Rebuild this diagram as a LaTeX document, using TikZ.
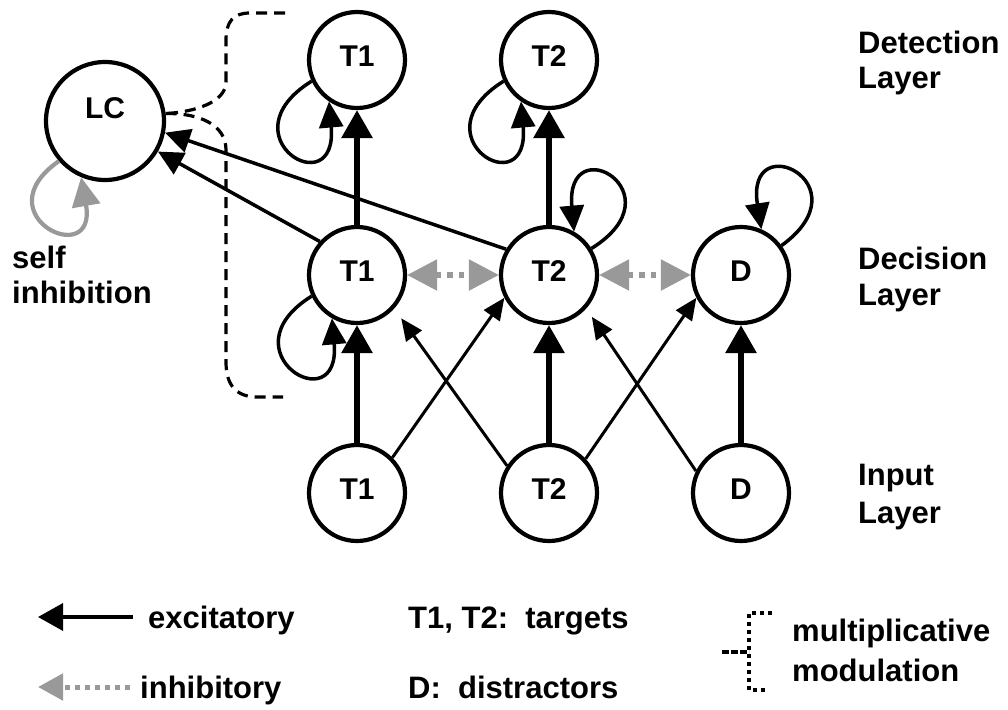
\documentclass[tikz,border=0pt]{standalone}
\usepackage{fontspec}
\setmainfont{Liberation Sans}
\usetikzlibrary{arrows.meta}
\definecolor{inhgray}{RGB}{153,153,153}
\begin{document}
\begin{tikzpicture}[x=1pt,y=1pt,
  neuron/.style={circle,draw,line width=4.2pt,minimum size=96pt,inner sep=0pt,text depth=8pt,font=\fontsize{30}{34}\selectfont\bfseries},
  lbl/.style={anchor=base west,inner sep=0pt,font=\fontsize{31}{36}\selectfont\bfseries},
  thickarr/.style={line width=6pt,-{Triangle[length=28pt,width=30pt]}},
  thinarr/.style={line width=3pt,-{Triangle[length=22pt,width=19pt]}},
  lcarr/.style={line width=3.5pt,-{Triangle[length=25pt,width=24pt]}},
  inharr/.style={color=inhgray,line width=5.5pt,dash pattern=on 5.5pt off 6pt,{Triangle[length=30pt,width=30pt]}-{Triangle[length=30pt,width=30pt]}},
  looparr/.style={line width=3.5pt,-{Triangle[length=26pt,width=24pt]}},
  modline/.style={line width=3.2pt,dash pattern=on 11pt off 7pt}
]
\useasboundingbox (0,0) rectangle (1008,-709);

% neurons
\node[neuron] (d1) at (357,-60) {T1};
\node[neuron] (d2) at (549,-60) {T2};
\node[neuron] (c1) at (357,-275) {T1};
\node[neuron] (c2) at (549,-275) {T2};
\node[neuron] (c3) at (741,-275) {D};
\node[neuron] (i1) at (357,-493) {T1};
\node[neuron] (i2) at (549,-493) {T2};
\node[neuron] (i3) at (741,-493) {D};
\node[neuron,minimum size=118pt,text depth=26pt] (lc) at (105,-121) {LC};

% excitatory feed-forward
\draw[thickarr] (i1) -- (c1);
\draw[thickarr] (i2) -- (c2);
\draw[thickarr] (i3) -- (c3);
\draw[thickarr] (c1) -- (d1);
\draw[thickarr] (c2) -- (d2);
\draw[thinarr] (i1.45) -- (c2.207);
\draw[thinarr,shorten >=12pt] (i2.147) -- (c1.-42);
\draw[thinarr] (i2.43) -- (c3.207);
\draw[thinarr,shorten >=10pt] (i3.154) -- (c2.-42);
\draw[lcarr] (c1.138) -- (lc.-30);
\draw[lcarr] (c2.149) -- (lc.-11);

% inhibitory
\draw[inharr] (c1) -- (c2);
\draw[inharr] (c2) -- (c3);

% self loops
\draw[looparr] (d1.205) .. controls +(212:105) and +(275:105) .. (d1.236);
\draw[looparr] (d2.205) .. controls +(212:105) and +(275:105) .. (d2.236);
\draw[looparr] (c1.205) .. controls +(212:105) and +(275:105) .. (c1.240);
\draw[looparr] (c2.32) .. controls +(32:105) and +(95:105) .. (c2.60);
\draw[looparr] (c3.36) .. controls +(36:105) and +(99:105) .. (c3.66);
\draw[looparr,color=inhgray,line width=4.2pt,-{Triangle[length=29pt,width=28pt]}] (lc.221) .. controls +(215:95) and +(280:95) .. (lc.247);

% multiplicative modulation
\coordinate (mt) at (285,-13);
\coordinate (mb) at (283,-397);
\draw[modline] (mt) -- (250,-13) .. controls (233,-13) and (226,-22) .. (226,-40) -- (226,-82) .. controls (226,-102) and (195,-112) .. (lc.7);
\draw[modline] (lc.7) .. controls (200,-113) and (226,-125) .. (226,-150) -- (226,-362) .. controls (226,-385) and (236,-396) .. (255,-397) -- (mb);

% labels
\node[lbl] (detA) at (858,-53) {Detection};
\node[lbl] (detB) at (858,-88) {Layer};
\node[lbl] (decA) at (858,-269) {Decision};
\node[lbl] (decB) at (858,-305) {Layer};
\node[lbl] (inpA) at (858,-485) {Input};
\node[lbl] (inpB) at (858,-523) {Layer};
\node[lbl] (selfA) at (12,-268) {self};
\node[lbl] (selfB) at (12,-303) {inhibition};

% legend
\coordinate (ex0) at (38,-617);
\coordinate (ex1) at (133,-617);
\draw[line width=3.5pt,-{Triangle[length=25pt,width=27pt]}] (ex1) -- (ex0);
\node[lbl] (exl) at (148,-628) {excitatory};
\coordinate (in0) at (38,-687);
\coordinate (in1) at (130,-687);
\draw[color=inhgray,line width=5pt,dash pattern=on 5pt off 5pt,-{Triangle[length=25pt,width=26pt]}] (in1) -- (in0);
\node[lbl] (inl) at (140,-698) {inhibitory};
\node[lbl] (tgl) at (408,-628) {T1, T2:\ \ targets};
\node[lbl] (dsl) at (408,-698) {D:\ \ distractors};
\draw[line width=4pt,dash pattern=on 4pt off 4pt] (772,-613) -- (749,-613) -- (749,-690) -- (766,-690);
\draw[line width=4pt,dash pattern=on 7pt off 2pt] (722,-652) -- (749,-652);
\node[lbl] (mmA) at (792,-641) {multiplicative};
\node[lbl] (mmB) at (792,-681) {modulation};
\end{tikzpicture}
\end{document}
